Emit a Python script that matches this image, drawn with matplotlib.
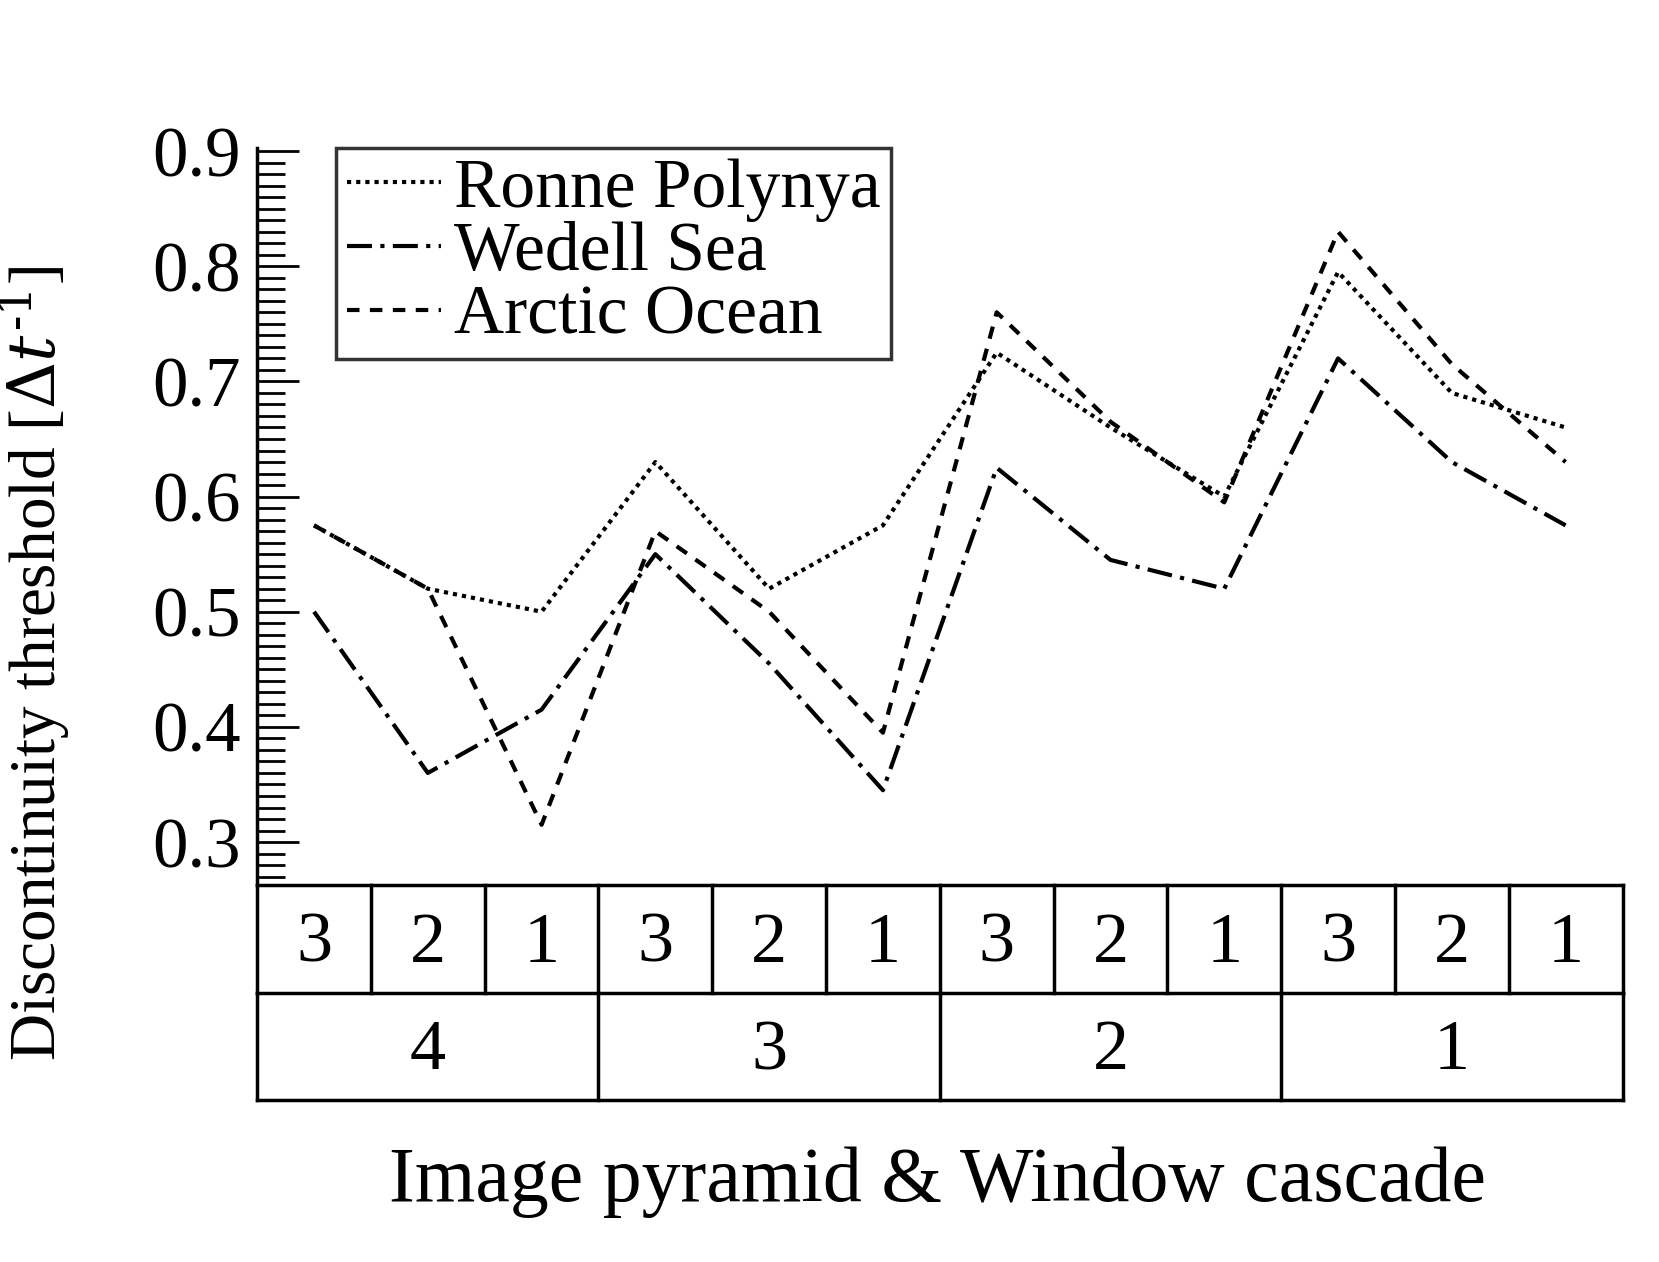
import matplotlib
matplotlib.use("Agg")
import matplotlib.pyplot as plt
import numpy as np

plt.rcParams['font.family'] = ['Liberation Serif', 'DejaVu Serif']
plt.rcParams['mathtext.fontset'] = 'dejavuserif'

windows = ['3', '2', '1'] * 4
pyramids = ['4', '3', '2', '1']
ronne = [0.575, 0.52, 0.50, 0.63, 0.52, 0.575, 0.725, 0.66, 0.60, 0.795, 0.69, 0.66]
wedell = [0.50, 0.36, 0.415, 0.55, 0.455, 0.345, 0.625, 0.545, 0.52, 0.72, 0.63, 0.575]
arctic = [0.575, 0.52, 0.315, 0.57, 0.50, 0.395, 0.76, 0.665, 0.595, 0.83, 0.715, 0.63]

fig = plt.figure(figsize=(16.59, 12.62), dpi=100)
L, R = 0.155, 0.978
ax = fig.add_axes([L, 0.299, R - L, 0.883 - 0.299])
x = np.arange(len(windows))
lw = 3.0
ax.plot(x, ronne, color='black', lw=lw, linestyle=(0, (1, 1.2)), label='Ronne Polynya')
ax.plot(x, wedell, color='black', lw=lw, linestyle=(0, (6, 2, 1, 2)), label='Wedell Sea')
ax.plot(x, arctic, color='black', lw=lw, linestyle=(0, (3, 2.5)), label='Arctic Ocean')
ax.set_xlim(-0.5, 11.5)
ax.set_ylim(0.263, 0.903)
for s in ['top', 'right', 'bottom']:
    ax.spines[s].set_visible(False)
ax.spines['left'].set_linewidth(2.5)
ax.set_xticks([])
ax.set_yticks(np.arange(0.3, 0.91, 0.1))
ax.set_yticklabels([f'{v:.1f}' for v in np.arange(0.3, 0.91, 0.1)], fontsize=51)
ax.set_yticks(np.arange(0.27, 0.905, 0.01), minor=True)
ax.tick_params(axis='y', which='major', direction='in', length=30, width=2, pad=12)
ax.tick_params(axis='y', which='minor', direction='in', length=20, width=2)
ax.set_ylabel(r'Discontinuity threshold [$\Delta t^{\text{-}1}$]', fontsize=47, labelpad=14)
ax.yaxis.set_label_coords(-0.135, 0.3, transform=ax.transAxes)
leg = ax.legend(loc='upper left', bbox_to_anchor=(0.058, 1.0), fontsize=50, frameon=True,
                fancybox=False, edgecolor='black', handlelength=1.35, borderpad=0.15,
                labelspacing=0.0, handletextpad=0.2, borderaxespad=0)
leg.get_frame().set_linewidth(2.5)

tab = fig.add_axes([L, 0.128, R - L, 0.299 - 0.128])
tab.set_xlim(-0.5, 11.5)
tab.set_ylim(0, 2)
tab.axis('off')
k = dict(color='black', lw=2.5, clip_on=False)
tab.plot([-0.5, 11.5], [2, 2], **k)
tab.plot([-0.5, 11.5], [1, 1], **k)
tab.plot([-0.5, 11.5], [0, 0], **k)
for i in range(13):
    tab.plot([i - 0.5, i - 0.5], [1, 2], **k)
for g in range(5):
    tab.plot([g * 3 - 0.5, g * 3 - 0.5], [0, 1], **k)
for i, w in enumerate(windows):
    tab.text(i, 1.45, w, ha='center', va='center', fontsize=52)
for g, p in enumerate(pyramids):
    tab.text(g * 3 + 1, 0.45, p, ha='center', va='center', fontsize=52)
fig.text(0.565, 0.063, 'Image pyramid & Window cascade', ha='center', va='center', fontsize=56)
fig.savefig('out.png', dpi=100)
